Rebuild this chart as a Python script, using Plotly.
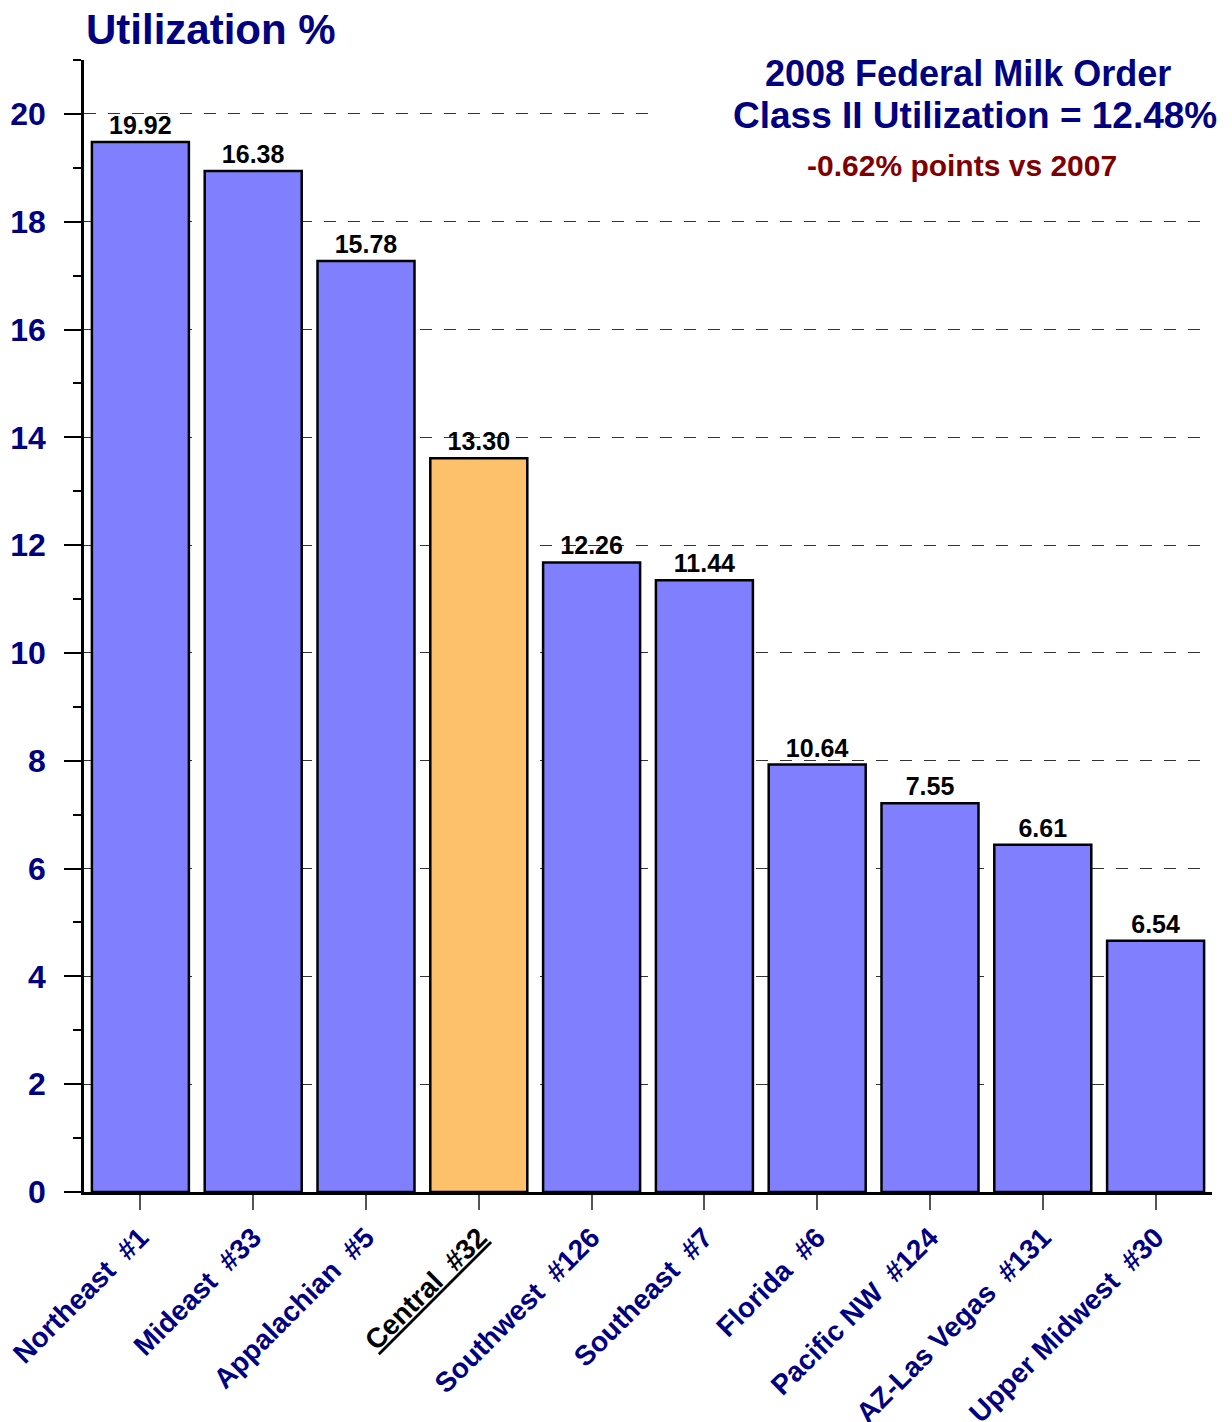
import plotly.graph_objects as go

# Federal milk order regions, in chart order
regions = ["Northeast  #1", "Mideast  #33", "Appalachian  #5", "Central  #32",
           "Southwest  #126", "Southeast  #7", "Florida  #6", "Pacific NW  #124",
           "AZ-Las Vegas  #131", "Upper Midwest  #30"]
# bar heights as drawn in the picture
bar_heights = [19.48, 18.94, 17.27, 13.61, 11.68, 11.35, 7.93, 7.21, 6.44, 4.66]
# value labels printed above each bar
value_labels = ["19.92", "16.38", "15.78", "13.30", "12.26", "11.44", "10.64", "7.55", "6.61", "6.54"]
highlight = "Central  #32"

NAVY = "#000080"
FONT = "Liberation Sans"

colors = ["#FDC06B" if r == highlight else "#8080FF" for r in regions]
tick_text = []
for r in regions:
    t = r.replace("  ", "\u00a0 ")
    if r == highlight:
        t = "<span style='color:black'><u>" + t + "</u></span>"
    tick_text.append(t)

fig = go.Figure()
fig.add_trace(go.Bar(
    x=regions,
    y=bar_heights,
    width=0.86,
    marker=dict(color=colors, line=dict(color="black", width=2.5)),
    text=value_labels,
    texttemplate="<b>%{text}</b>",
    textposition="outside",
    textfont=dict(family=FONT, size=25, color="black"),
    cliponaxis=False,
    hoverinfo="x+y",
))

# white box behind the headline text (hides the gridline there)
fig.add_shape(type="rect", xref="paper", yref="y", x0=0.506, x1=1.0, y0=18.5, y1=21,
              fillcolor="white", line=dict(width=0), layer="above")

fig.add_annotation(xref="paper", yref="paper", x=-0.0, y=1.027,
                   text="<b>Utilization %</b>", showarrow=False,
                   xanchor="left", yanchor="middle",
                   font=dict(family=FONT, size=42, color=NAVY))
fig.add_annotation(xref="paper", yref="paper", x=0.784, y=0.9885,
                   text="<b>2008 Federal Milk Order</b>", showarrow=False,
                   xanchor="center", yanchor="middle",
                   font=dict(family=FONT, size=36, color=NAVY))
fig.add_annotation(xref="paper", yref="paper", x=0.79, y=0.9514,
                   text="<b>Class II Utilization = 12.48%</b>", showarrow=False,
                   xanchor="center", yanchor="middle",
                   font=dict(family=FONT, size=37, color=NAVY))
fig.add_annotation(xref="paper", yref="paper", x=0.778, y=0.9072,
                   text="<b>-0.62% points vs 2007</b>", showarrow=False,
                   xanchor="center", yanchor="middle",
                   font=dict(family=FONT, size=30, color="#800000"))

fig.update_layout(
    width=1232, height=1422,
    margin=dict(l=76, r=28, t=52, b=238),
    paper_bgcolor="white", plot_bgcolor="white",
    showlegend=False,
    bargap=0.14,
)

fig.update_yaxes(
    range=[0, 21], automargin=False,
    tickvals=list(range(0, 21, 2)),
    ticks="outside", ticklen=17, tickwidth=1.5, tickcolor="black",
    ticklabelstandoff=12,
    tickfont=dict(family=FONT, size=32, color=NAVY, weight="bold"),
    showgrid=True, gridcolor="#333333", gridwidth=1, griddash="12px,12px",
    showline=True, linecolor="black", linewidth=2.5,
    minor=dict(tickvals=list(range(1, 22, 2)), ticks="outside", ticklen=8,
               tickcolor="black", tickwidth=1.5, showgrid=False),
    zeroline=False,
)
fig.update_xaxes(
    automargin=False,
    tickvals=regions, ticktext=tick_text, tickangle=-45,
    ticks="outside", ticklen=15, tickwidth=1.5, tickcolor="#555555",
    tickfont=dict(family=FONT, size=28, color=NAVY, weight="bold"),
    showline=True, linecolor="black", linewidth=3,
    showgrid=False,
)

fig.write_html("out.html")
